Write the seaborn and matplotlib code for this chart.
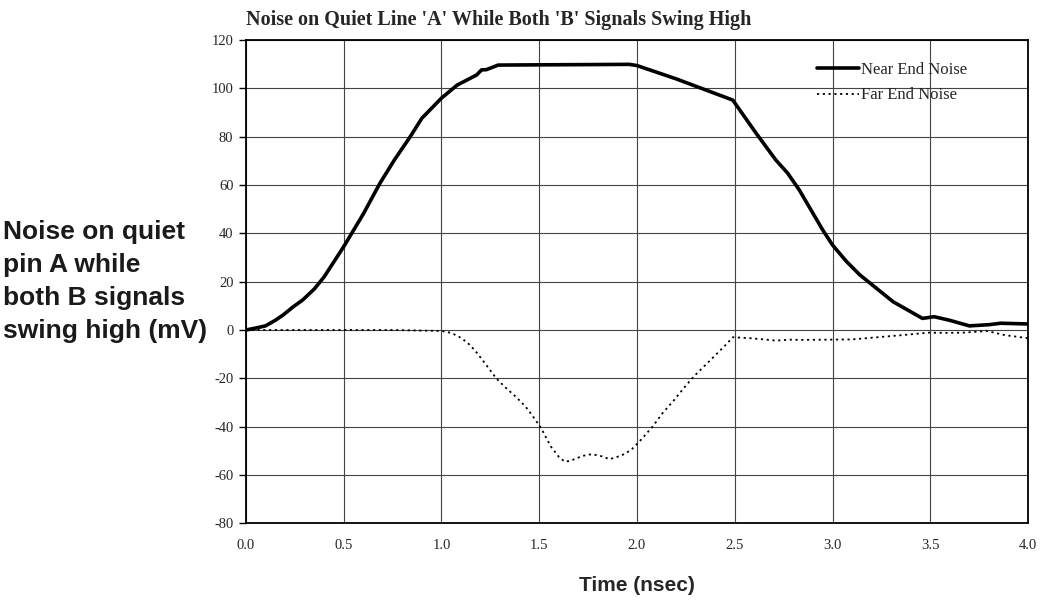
import numpy as np
import pandas as pd
import matplotlib
matplotlib.use("Agg")
import matplotlib.pyplot as plt
import seaborn as sns

# valores (tempo em ns, ruído em mV)
near_t = [0.0, 0.05, 0.10, 0.15, 0.19, 0.24, 0.29, 0.35, 0.40, 0.50, 0.60, 0.685,
          0.76, 0.84, 0.90, 1.00, 1.08, 1.18, 1.205, 1.23, 1.29, 1.50, 1.75, 1.96,
          2.00, 2.20, 2.49, 2.61, 2.71, 2.77, 2.83, 2.95, 3.00, 3.07, 3.14, 3.31,
          3.46, 3.52, 3.60, 3.70, 3.80, 3.86, 4.00]
near_mv = [0.0, 0.8, 1.7, 4.0, 6.2, 9.5, 12.4, 17.0, 22.0, 34.5, 48.0, 60.7,
           70.5, 80.0, 87.7, 96.0, 101.4, 105.6, 107.7, 107.8, 109.7, 109.8, 109.9, 110.0,
           109.5, 104.0, 95.2, 81.4, 70.4, 65.0, 58.0, 41.4, 35.2, 28.5, 22.8, 11.7,
           4.8, 5.5, 4.0, 1.7, 2.2, 2.8, 2.5]

far_t = [0.0, 0.25, 0.50, 0.75, 1.00, 1.05, 1.09, 1.13, 1.17, 1.22, 1.28, 1.33,
         1.38, 1.43, 1.47, 1.51, 1.56, 1.60, 1.63, 1.66, 1.69, 1.73, 1.77, 1.82,
         1.86, 1.92, 1.97, 2.02, 2.08, 2.13, 2.19, 2.24, 2.29, 2.35, 2.41, 2.45,
         2.49, 2.58, 2.65, 2.71, 2.78, 2.84, 2.97, 3.10, 3.23, 3.36, 3.49, 3.58,
         3.67, 3.79, 3.88, 4.00]
far_mv = [0.0, 0.0, 0.0, 0.0, -0.4, -1.2, -2.8, -5.0, -8.3, -13.5, -20.0, -24.0,
          -27.6, -31.7, -36.0, -40.7, -48.3, -52.5, -54.5, -54.2, -53.1, -52.0, -51.4, -52.3,
          -53.5, -52.0, -49.7, -45.5, -40.0, -34.5, -29.0, -24.0, -19.3, -14.5, -9.7, -6.5,
          -3.0, -3.4, -3.9, -4.4, -4.0, -4.1, -4.0, -3.9, -3.0, -2.1, -1.1, -1.2,
          -1.1, -0.4, -2.1, -3.4]

x_ticks = [0.0, 0.5, 1.0, 1.5, 2.0, 2.5, 3.0, 3.5, 4.0]
y_ticks = [-80, -60, -40, -20, 0, 20, 40, 60, 80, 100, 120]

df_near = pd.DataFrame({"t": near_t, "mv": near_mv})
df_far = pd.DataFrame({"t": far_t, "mv": far_mv})

sns.set_style("whitegrid")
plt.rcParams["font.family"] = ["Liberation Serif", "DejaVu Serif"]

fig = plt.figure(figsize=(10.42, 6.0), dpi=100)
ax = fig.add_axes([0.236, 0.128, 0.7506, 0.805])

sns.lineplot(data=df_near, x="t", y="mv", ax=ax, color="black", linewidth=2.6,
             label="Near End Noise")
sns.lineplot(data=df_far, x="t", y="mv", ax=ax, color="black", linewidth=1.3,
             linestyle=(0, (1.2, 2.0)), label="Far End Noise")

ax.set_xlim(0, 4)
ax.set_ylim(-80, 120)
ax.set_xticks(x_ticks)
ax.set_yticks(y_ticks)
ax.set_xticklabels([f"{v:.1f}" for v in x_ticks], fontsize=10.5)
ax.set_yticklabels([str(v) for v in y_ticks], fontsize=10.5)
ax.grid(True, color="#444444", linewidth=0.8)
for s in ax.spines.values():
    s.set_color("black")
    s.set_linewidth(1.3)
ax.tick_params(axis="y", left=True, length=5, width=1, color="black", pad=4)
ax.tick_params(axis="x", bottom=False, pad=8)

ax.set_title("Noise on Quiet Line 'A' While Both 'B' Signals Swing High",
             loc="left", fontsize=14.5, fontweight="bold", pad=11)
ax.set_xlabel("Time (nsec)", family=["Liberation Sans", "DejaVu Sans"],
              fontsize=15, fontweight="bold", labelpad=17)
ax.set_ylabel("")
fig.text(0.003, 0.531, "Noise on quiet\npin A while\nboth B signals\nswing high (mV)",
         family=["Liberation Sans", "DejaVu Sans"], fontsize=19, fontweight="bold",
         ha="left", va="center", multialignment="left", color="#1a1a1a",
         linespacing=1.48)

leg = ax.legend(loc="upper left", bbox_to_anchor=(0.722, 0.968), frameon=False,
                fontsize=12, handlelength=2.5, handletextpad=0.15,
                borderaxespad=0.0, labelspacing=0.55)

fig.savefig("out.png", dpi=100)
